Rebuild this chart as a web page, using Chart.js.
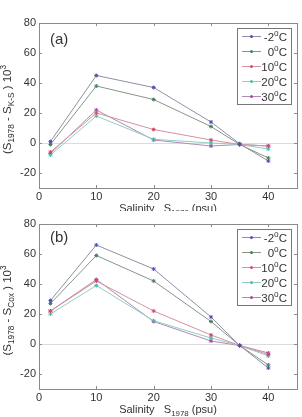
<!DOCTYPE html>
<html>
<head>
<meta charset="utf-8">
<script src="https://cdn.jsdelivr.net/npm/chart.js@4"></script>
<style>
  body { margin:0; background:#fff; width:302px; height:417px; overflow:hidden; position:relative; }
  .panel { position:absolute; left:0; width:302px; }
</style>
</head>
<body>
<div class="panel" style="top:0; height:211px;"><canvas id="chartA"></canvas></div>
<div class="panel" style="top:211px; height:206px;"><canvas id="chartB"></canvas></div>
<script>
// salinity points (psu)
const salinity = [2, 10, 20, 30, 35, 40];
const xTicks = [0, 10, 20, 30, 40];
const yTicks = [-20, 0, 20, 40, 60, 80];
const tempLabels = ['-2°C', '0°C', '10°C', '20°C', '30°C'];

// (a) S1978 - S(K-S), x10^3
const kA_m2 = [1, 45, 37, 14, -0.5, -12];
const kA_0  = [-1, 38, 29, 11, -1, -10];
const kA_10 = [-6, 20, 9, 2, -1, -2];
const kA_20 = [-8, 18, 2.5, 0, -1, -4];
const kA_30 = [-7, 22, 2, -2, -1, -2];

// (b) S1978 - S(Cox), x10^3
const cB_m2 = [29, 66, 50, 18, -1, -16];
const cB_0  = [27, 59, 42, 15, -1, -14];
const cB_10 = [22, 42, 22, 6, -1, -7];
const cB_20 = [20, 39, 15.5, 4, -1, -8];
const cB_30 = [22, 43, 15, 2, -1, -6];

const lineColors = ['#8f8fa8', '#859688', '#d2939f', '#95cdc6', '#ad8db2'];
const markColors = ['#4f4fb8', '#44805a', '#d24a6e', '#44c0b2', '#a84a98'];

function buildSets(series) {
  return series.map((vals, i) => ({
    label: tempLabels[i],
    data: salinity.map((s, j) => ({x: s, y: vals[j]})),
    borderColor: lineColors[i],
    borderWidth: 1,
    pointStyle: 'star',
    pointRadius: 2,
    pointBorderColor: markColors[i],
    pointBackgroundColor: markColors[i],
    pointBorderWidth: 1,
    tension: 0
  }));
}

const FONT = '"Liberation Sans", Arial, sans-serif';
const TXT = '#333';

// draw text parts with sub/superscripts, centred on x
function drawRich(ctx, parts, x, y, size, align) {
  let w = 0;
  parts.forEach(p => {
    ctx.font = (p[1] === 'n' ? size : size * 0.72) + 'px ' + FONT;
    w += ctx.measureText(p[0]).width;
  });
  let cx = align === 'right' ? x - w : x - w / 2;
  ctx.textAlign = 'left';
  parts.forEach(p => {
    let dy = 0, fs = size;
    if (p[1] === 'sub') { fs = size * 0.72; dy = size * 0.3; }
    if (p[1] === 'sup') { fs = size * 0.72; dy = -size * 0.4; }
    ctx.font = fs + 'px ' + FONT;
    ctx.fillText(p[0], cx, y + dy);
    cx += ctx.measureText(p[0]).width;
  });
}

const framePlugin = {
  id: 'frame',
  afterDraw(chart, args, opts) {
    const ctx = chart.ctx, a = chart.chartArea;
    const xs = chart.scales.x, ys = chart.scales.y;
    ctx.save();
    ctx.strokeStyle = '#8a8a8a';
    ctx.lineWidth = 1;
    ctx.strokeRect(Math.round(a.left) + 0.5, Math.round(a.top) + 0.5, Math.round(a.right - a.left), Math.round(a.bottom - a.top));
    ctx.beginPath();
    xTicks.forEach(v => {
      const px = Math.round(xs.getPixelForValue(v)) + 0.5;
      ctx.moveTo(px, a.bottom); ctx.lineTo(px, a.bottom - 3);
      ctx.moveTo(px, a.top); ctx.lineTo(px, a.top + 3);
    });
    yTicks.forEach(v => {
      const py = Math.round(ys.getPixelForValue(v)) + 0.5;
      ctx.moveTo(a.left, py); ctx.lineTo(a.left + 3, py);
      ctx.moveTo(a.right, py); ctx.lineTo(a.right - 3, py);
    });
    ctx.stroke();

    // panel letter
    ctx.fillStyle = TXT;
    ctx.font = '15px ' + FONT;
    ctx.textAlign = 'left';
    ctx.textBaseline = 'middle';
    ctx.fillText(opts.letter, a.left + 11, a.top + opts.letterDy);

    // legend box
    const lx = 237, lw = 54, ly = a.top + opts.legTop, rowH = 15;
    const lh = rowH * 5 + 1;
    ctx.fillStyle = '#fff';
    ctx.fillRect(lx, ly, lw, lh);
    ctx.strokeStyle = '#777';
    ctx.strokeRect(lx + 0.5, ly + 0.5, lw, lh);
    chart.data.datasets.forEach((d, i) => {
      const ry = ly + 8 + i * rowH;
      ctx.strokeStyle = d.borderColor;
      ctx.beginPath();
      ctx.moveTo(lx + 5, ry + 0.5); ctx.lineTo(lx + 24, ry + 0.5);
      ctx.stroke();
      ctx.fillStyle = d.pointBorderColor;
      ctx.beginPath(); ctx.arc(lx + 14.5, ry + 0.5, 1.5, 0, Math.PI * 2); ctx.fill();
      ctx.fillStyle = TXT;
      ctx.textBaseline = 'alphabetic';
      const t = d.label.split('°');
      drawRich(ctx, [[t[0], 'n'], ['o', 'sup'], [t[1], 'n']], lx + lw - 4, ry + 5, 11.5, 'right');
    });

    // axis titles
    ctx.fillStyle = TXT;
    ctx.textBaseline = 'alphabetic';
    drawRich(ctx, [['Salinity   S', 'n'], ['1978', 'sub'], [' (psu)', 'n']], (a.left + a.right) / 2, a.bottom + opts.xTitleDy, 11);
    ctx.save();
    ctx.translate(11, (a.top + a.bottom) / 2 + 4);
    ctx.rotate(-Math.PI / 2);
    drawRich(ctx, opts.yTitle, 0, 0, 11.5);
    ctx.restore();
    ctx.restore();
  }
};

function makeOptions(padTop, xHeight, extra) {
  return {
    responsive: true,
    maintainAspectRatio: false,
    animation: false,
    layout: { padding: { top: padTop, right: 4, left: 0, bottom: 0 } },
    plugins: { legend: { display: false }, tooltip: { enabled: false }, frame: extra },
    scales: {
      x: {
        type: 'linear', min: 0, max: 45,
        afterBuildTicks: s => { s.ticks = xTicks.map(v => ({value: v})); },
        afterFit: s => { s.height = xHeight; },
        grid: { display: false, drawTicks: false },
        border: { display: false },
        ticks: { color: TXT, font: { size: 11, family: FONT }, padding: 2, maxRotation: 0 }
      },
      y: {
        min: -30, max: 80,
        afterBuildTicks: s => { s.ticks = yTicks.map(v => ({value: v})); },
        afterFit: s => { s.width = 39; },
        grid: { drawTicks: false, color: c => (c.tick && c.tick.value === 0) ? '#dcdcdc' : 'rgba(0,0,0,0)' },
        border: { display: false },
        ticks: { color: TXT, font: { size: 11, family: FONT }, padding: 3 }
      }
    }
  };
}

new Chart(document.getElementById('chartA').getContext('2d'), {
  type: 'line',
  data: { datasets: buildSets([kA_m2, kA_0, kA_10, kA_20, kA_30]) },
  options: makeOptions(23, 23, {
    letter: '(a)', letterDy: 17, legTop: 5, xTitleDy: 24,
    yTitle: [['(S', 'n'], ['1978', 'sub'], [' - S', 'n'], ['K-S', 'sub'], [' ) 10', 'n'], ['3', 'sup']]
  }),
  plugins: [framePlugin]
});

new Chart(document.getElementById('chartB').getContext('2d'), {
  type: 'line',
  data: { datasets: buildSets([cB_m2, cB_0, cB_10, cB_20, cB_30]) },
  options: makeOptions(13, 28, {
    letter: '(b)', letterDy: 14, legTop: 5, xTitleDy: 24,
    yTitle: [['(S', 'n'], ['1978', 'sub'], [' - S', 'n'], ['Cox', 'sub'], [' ) 10', 'n'], ['3', 'sup']]
  }),
  plugins: [framePlugin]
});
</script>
</body>
</html>
